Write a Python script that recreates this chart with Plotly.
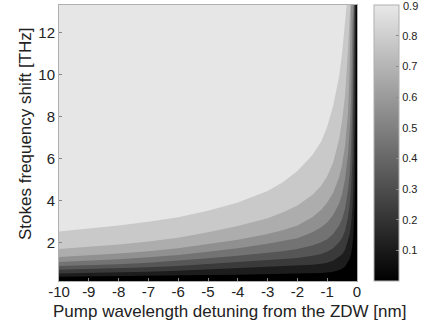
import plotly.graph_objects as go

# Pump wavelength detuning [nm] sample points along each contour
detuning = [-10, -9, -8, -7, -6, -5, -4, -3, -2.5, -2, -1.5, -1.2, -1, -0.8, -0.6, -0.5,
            -0.4, -0.3, -0.25, -0.2, -0.15, -0.12, -0.1, -0.08, -0.06, -0.04, -0.02]

# Contour levels and the Stokes frequency shift [THz] of each contour line
levels = [0.1, 0.2, 0.3, 0.4, 0.5, 0.6, 0.7, 0.8]
shift_01 = [0.36, 0.37, 0.38, 0.40, 0.42, 0.44, 0.46, 0.48, 0.49, 0.50, 0.52, 0.54, 0.56, 0.60,
            0.68, 0.74, 0.85, 1.05, 1.2, 1.45, 1.9, 2.4, 2.9, 3.8, 5.2, 9.0, 14]
shift_02 = [0.52, 0.54, 0.57, 0.60, 0.65, 0.71, 0.76, 0.81, 0.84, 0.87, 0.93, 0.98, 1.03, 1.12,
            1.3, 1.42, 1.65, 2.05, 2.35, 2.85, 3.7, 4.7, 5.8, 7.8, 14, 14, 14]
shift_03 = [0.69, 0.72, 0.76, 0.81, 0.88, 0.97, 1.05, 1.14, 1.19, 1.25, 1.36, 1.45, 1.55, 1.72,
            2.0, 2.2, 2.55, 3.2, 3.7, 4.5, 6.0, 8.0, 11.0, 14, 14, 14, 14]
shift_04 = [0.87, 0.91, 0.96, 1.03, 1.12, 1.24, 1.36, 1.50, 1.58, 1.68, 1.85, 2.0, 2.15, 2.4,
            2.8, 3.1, 3.6, 4.5, 5.2, 6.4, 8.8, 12.0, 14, 14, 14, 14, 14]
shift_05 = [1.07, 1.13, 1.20, 1.29, 1.40, 1.55, 1.72, 1.93, 2.05, 2.2, 2.48, 2.72, 2.95, 3.3,
            3.85, 4.3, 5.0, 6.2, 7.2, 8.8, 12.5, 14, 14, 14, 14, 14, 14]
shift_06 = [1.30, 1.38, 1.47, 1.58, 1.72, 1.92, 2.12, 2.40, 2.58, 2.8, 3.2, 3.55, 3.9, 4.35,
            5.1, 5.7, 6.6, 8.2, 10.0, 13.2, 14, 14, 14, 14, 14, 14, 14]
shift_07 = [1.68, 1.78, 1.90, 2.04, 2.22, 2.48, 2.78, 3.15, 3.42, 3.75, 4.25, 4.7, 5.15, 5.8,
            6.9, 7.8, 9.0, 11.2, 13.0, 14, 14, 14, 14, 14, 14, 14, 14]
shift_08 = [2.52, 2.65, 2.80, 2.98, 3.20, 3.50, 3.90, 4.45, 4.85, 5.4, 6.15, 6.8, 7.5, 8.5,
            9.9, 11.0, 12.6, 14, 14, 14, 14, 14, 14, 14, 14, 14, 14]
contours = [shift_01, shift_02, shift_03, shift_04, shift_05, shift_06, shift_07, shift_08]

x_ticks = [-10, -9, -8, -7, -6, -5, -4, -3, -2, -1, 0]
y_ticks = [2, 4, 6, 8, 10, 12]
cbar_ticks = [0.1, 0.2, 0.3, 0.4, 0.5, 0.6, 0.7, 0.8]
cbar_top_tick = 0.9

x_range = [-10, 0]
y_range = [0.16, 13.3]
z_range = [0, 0.9]

x_title = "Pump wavelength detuning from the ZDW [nm]"
y_title = "Stokes frequency shift [THz]"

# band fill colours (band above each level)
band_colors = ["#1d1d1d", "#3a3a3a", "#565656", "#737373", "#909090", "#adadad", "#c9c9c9", "#e6e6e6"]
FONT = "Liberation Sans, Arial, Helvetica, sans-serif"
y_top = 14

fig = go.Figure()
for lev, ys, col in zip(levels, contours, band_colors):
    xs = list(detuning) + [detuning[-1], detuning[0]]
    yy = list(ys) + [y_top, y_top]
    fig.add_trace(go.Scatter(x=xs, y=yy, fill="toself", fillcolor=col, mode="lines",
                             line=dict(width=0, color=col), hoverinfo="skip",
                             showlegend=False, name=str(lev)))

# colorbar carrier
fig.add_trace(go.Scatter(
    x=[None], y=[None], mode="markers", showlegend=False, hoverinfo="skip",
    marker=dict(color=[0], cmin=z_range[0], cmax=z_range[1],
                colorscale=[[0, "#000000"], [1, "#e8e8e8"]], showscale=True,
                colorbar=dict(x=1.057, xanchor="left", y=0.5, yanchor="middle",
                              len=1, lenmode="fraction", thickness=25,
                              outlinecolor="#b0b0b0", outlinewidth=1,
                              tickvals=cbar_ticks, ticktext=[str(t) for t in cbar_ticks],
                              ticks="inside", ticklen=3, tickcolor="#888888",
                              tickfont=dict(family=FONT, size=11, color="#222222"),
                              xpad=0, ypad=0))))

fig.update_layout(
    width=429, height=326,
    margin=dict(l=59, r=72, t=5, b=45, autoexpand=False),
    paper_bgcolor="white", plot_bgcolor="black",
    font=dict(family=FONT, color="#222222"),
    annotations=[
        dict(text=x_title, xref="paper", yref="paper", x=0.5705, y=-0.1087,
             xanchor="center", yanchor="middle", showarrow=False, font=dict(size=17)),
        dict(text=y_title, xref="paper", yref="paper", x=-0.114, y=0.5326, textangle=-90,
             xanchor="center", yanchor="middle", showarrow=False, font=dict(size=17)),
        dict(text=str(cbar_top_tick), xref="paper", yref="paper", x=1.148, y=0.9964,
             xanchor="left", yanchor="middle", showarrow=False,
             font=dict(size=11, color="#222222")),
    ],
)
fig.update_xaxes(range=x_range, tickvals=x_ticks, ticktext=[str(t) for t in x_ticks],
                 showgrid=False, zeroline=False, showline=True, mirror=True,
                 linecolor="#b0b0b0", linewidth=1, ticks="inside", ticklen=3, tickcolor="#888888",
                 tickfont=dict(size=15), ticklabelstandoff=-3, automargin=False)
fig.update_yaxes(range=y_range, tickvals=y_ticks, ticktext=[str(t) for t in y_ticks],
                 showgrid=False, zeroline=False, showline=True, mirror=True,
                 linecolor="#b0b0b0", linewidth=1, ticks="inside", ticklen=3, tickcolor="#888888",
                 tickfont=dict(size=15), automargin=False)

fig.write_html("out.html", config={"displayModeBar": False},
               post_script="document.body.style.margin='0px';")
